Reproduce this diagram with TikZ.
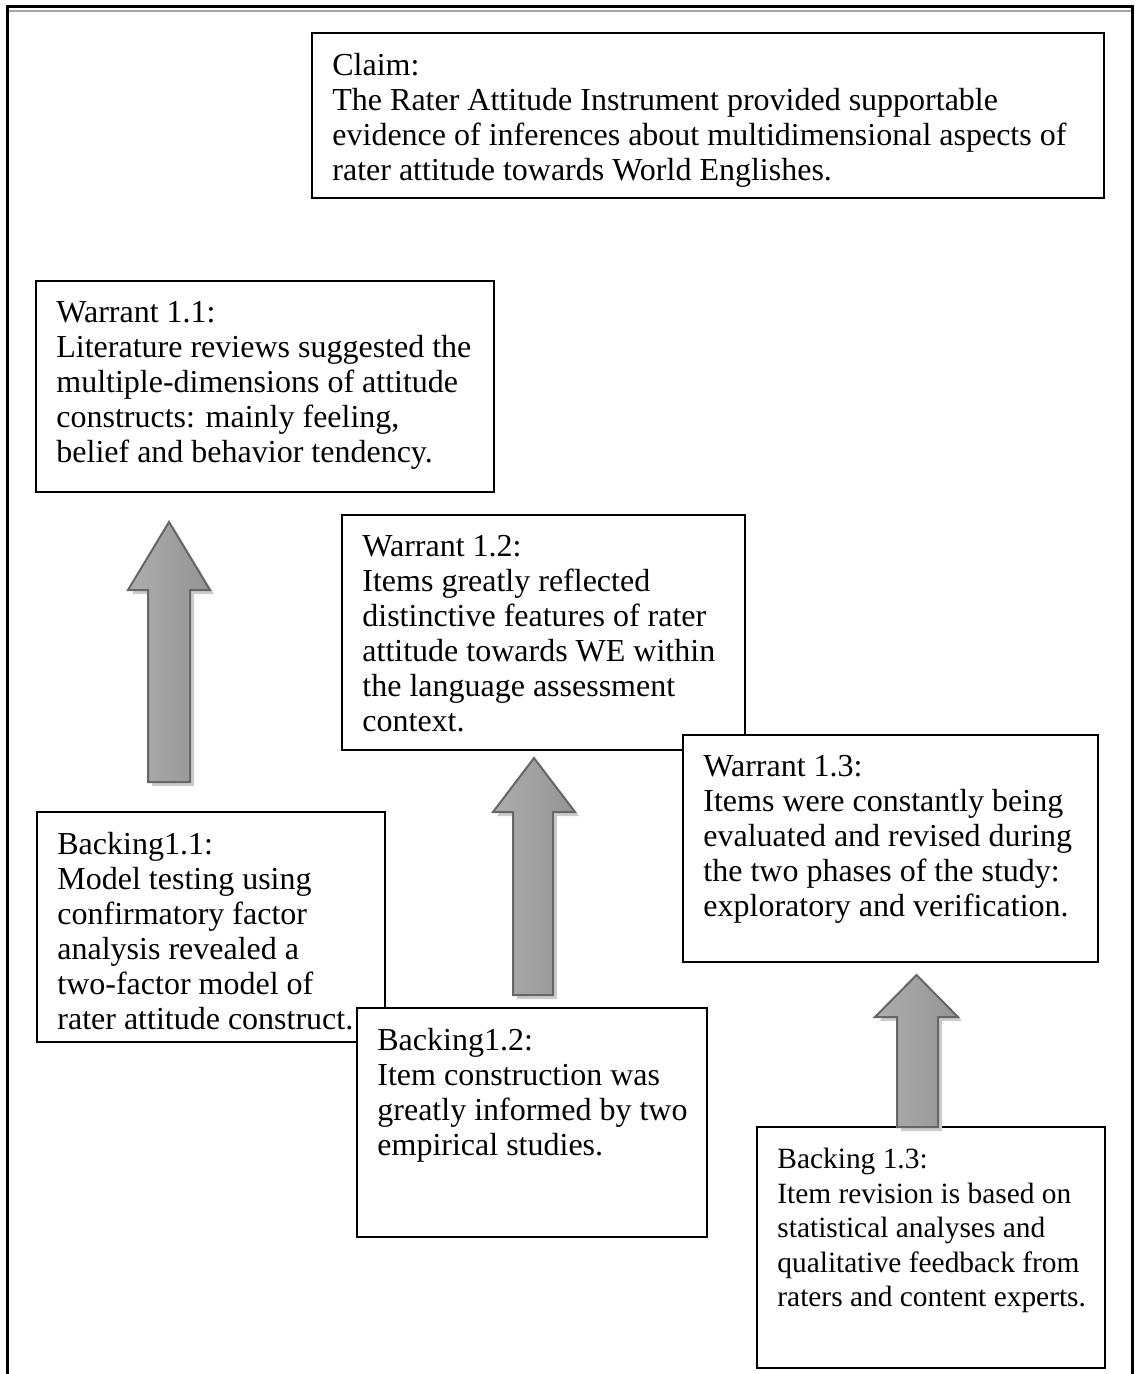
\documentclass[tikz,border=0pt]{standalone}
\usepackage{fontspec}
\setmainfont{Liberation Serif}
% block arrow pointing up: head left x, shaft left x, shaft right x, head right x, tip y, head base y, bottom y
\newcommand\upblock[7]{%
  \path[arrowshadow,shift={(4,4)}] (#2,#7) -- (#2,#6) -- (#1,#6) -- ({(#1+#4)/2},#5) -- (#4,#6) -- (#3,#6) -- (#3,#7) -- cycle;
  \path[blockarrow] (#2,#7) -- (#2,#6) -- (#1,#6) -- ({(#1+#4)/2},#5) -- (#4,#6) -- (#3,#6) -- (#3,#7) -- cycle;
}
\begin{document}
\begin{tikzpicture}[x=0.5pt,y=-0.5pt,
  frame/.style={draw=black,line width=1pt,fill=white},
  txt/.style={anchor=north west,align=left,inner sep=0pt,
    font=\fontsize{16}{17.5}\selectfont},
  smalltxt/.style={txt,font=\fontsize{14.7}{17.2}\selectfont},
  blockarrow/.style={draw=black!60,line width=1pt,line join=miter,
    left color=black!32,middle color=black!13,right color=black!42},
  arrowshadow/.style={fill=black!20,draw=none}]
\useasboundingbox (0,0) rectangle (1135,1374);

% page frame, open at the bottom
\draw[black!35,line width=0.8pt] (9,11) -- (1131,11);
\draw[line width=1.5pt] (7,1374) -- (7,7) -- (1132,7) -- (1132,1374);

% claim
\draw[frame] (312,33) rectangle (1104,198);
\node[txt] (claim) at (332,53) {Claim:\\The Rater Attitude Instrument provided supportable\\evidence of inferences about multidimensional aspects of\\rater attitude towards World Englishes.};

% warrants
\draw[frame] (36,281) rectangle (494,492);
\node[txt] (w11) at (56,301) {Warrant 1.1:\\Literature reviews suggested the\\multiple-dimensions of attitude\\constructs: mainly feeling,\\belief and behavior tendency.};

\draw[frame] (342,515) rectangle (745,750);
\node[txt] (w12) at (362,535) {Warrant 1.2:\\Items greatly reflected\\distinctive features of rater\\attitude towards WE within\\the language assessment\\context.};

\draw[frame] (683,735) rectangle (1098,962);
\node[txt] (w13) at (703,755) {Warrant 1.3:\\Items were constantly being\\evaluated and revised during\\the two phases of the study:\\exploratory and verification.};

% backings
\draw[frame] (37,812) rectangle (385,1042);
\draw[frame] (357,1008) rectangle (707,1237);
\node[txt] (b11) at (57,832) {Backing1.1:\\Model testing using\\confirmatory factor\\analysis revealed a\\two-factor model of\\rater attitude construct.};
\node[txt] (b12) at (377,1028) {Backing1.2:\\Item construction was\\greatly informed by two\\empirical studies.};

\draw[frame] (757,1127) rectangle (1105,1368);
\node[smalltxt] (b13) at (777,1148) {Backing 1.3:\\Item revision is based on\\statistical analyses and\\qualitative feedback from\\raters and content experts.};

% support arrows
\upblock{128}{148}{190}{210}{522}{590}{782}
\upblock{493}{513}{553}{575}{758}{812}{995}
\upblock{875}{897}{938}{958}{975}{1017}{1127}
\end{tikzpicture}
\end{document}
